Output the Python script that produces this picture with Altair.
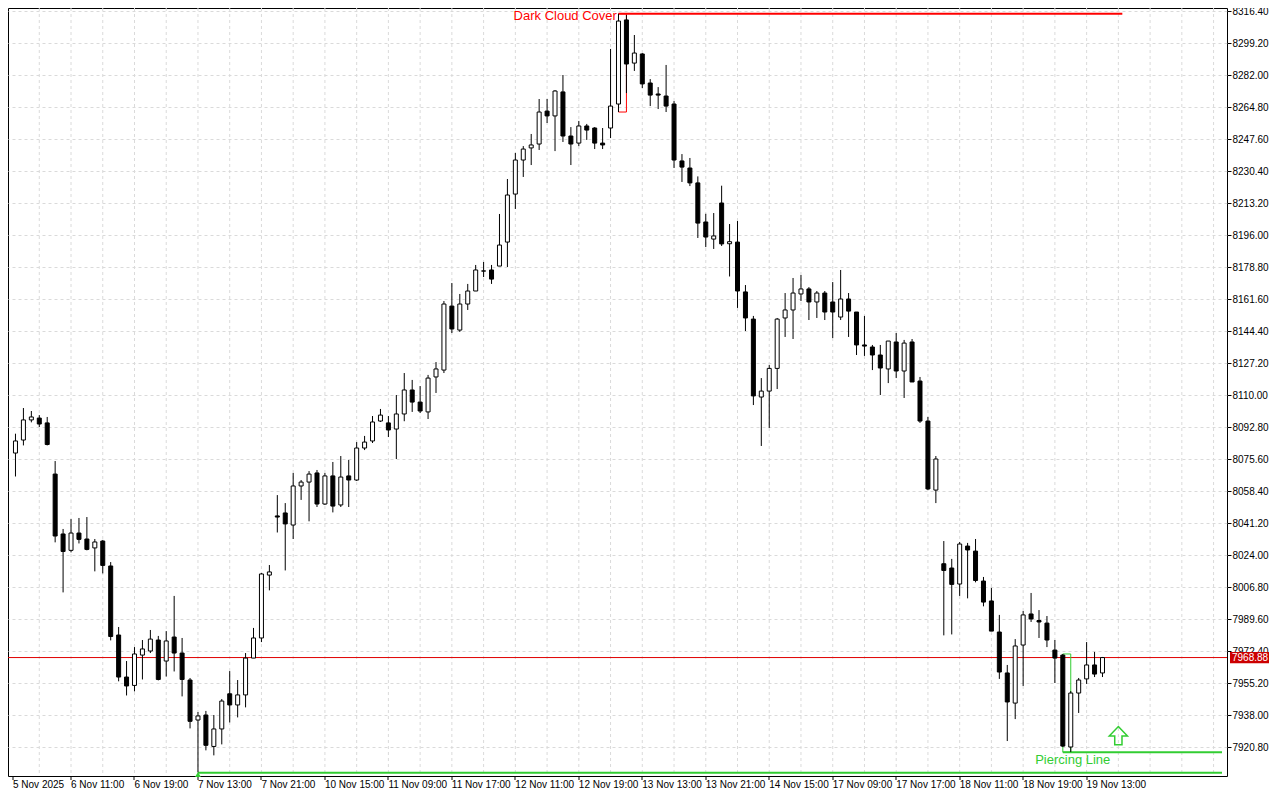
import json
import altair as alt
import pandas as pd

# ---------------- data (H1 candles) ----------------
opens = [8078.8, 8085.8, 8096.6, 8097.6, 8095.0, 8067.5, 8035.3, 8026.5, 8035.8, 8032.6,
         8027.8, 8031.5, 8018.1, 7981.0, 7958.4, 7953.9, 7970.2, 7972.4, 7978.3, 7967.0,
         7979.9, 7971.3, 7956.8, 7935.3, 7938.0, 7921.1, 7930.5, 7949.4, 7943.4, 7948.8,
         7968.6, 7979.4, 8013.2, 8045.0, 8046.6, 8040.1, 8061.1, 8063.2, 8068.1, 8051.4,
         8066.5, 8050.9, 8066.5, 8064.3, 8081.5, 8085.3, 8096.0, 8095.0, 8091.7, 8099.8,
         8112.7, 8106.2, 8100.9, 8119.7, 8123.4, 8157.8, 8144.9, 8158.9, 8165.9, 8176.6,
         8177.2, 8179.3, 8192.2, 8218.0, 8236.3, 8242.8, 8244.9, 8262.6, 8260.0, 8272.9,
         8249.2, 8245.4, 8254.6, 8253.5, 8245.4, 8253.5, 8266.4, 8311.6, 8288.4, 8293.3,
         8277.7, 8271.8, 8270.7, 8266.4, 8235.8, 8232.0, 8224.0, 8203.0, 8193.8, 8213.2,
         8191.3, 8192.2, 8165.4, 8150.8, 8108.9, 8112.1, 8124.3, 8151.4, 8155.7, 8164.3,
         8167.0, 8160.0, 8164.8, 8160.0, 8151.9, 8161.6, 8154.6, 8136.9, 8135.8, 8131.5,
         8124.0, 8138.5, 8122.9, 8138.5, 8117.5, 8096.0, 8058.9, 8019.3, 8017.0, 8008.4,
         8028.8, 8026.1, 8010.0, 7999.3, 7982.6, 7960.6, 7944.4, 7975.6, 7992.3, 7988.8,
         7987.4, 7972.9, 7970.2, 7920.8, 7949.8, 7957.4, 7964.9, 7960.6]
highs = [8089.2, 8103.0, 8101.4, 8099.2, 8098.2, 8074.5, 8038.0, 8043.3, 8043.9, 8044.4,
         8032.6, 8032.1, 8020.2, 7985.3, 7967.0, 7974.5, 7978.3, 7983.7, 7980.5, 7983.1,
         8002.0, 7979.4, 7957.9, 7939.6, 7940.2, 7938.0, 7946.6, 7961.6, 7956.8, 7971.3,
         7984.8, 8014.3, 8018.6, 8056.2, 8051.9, 8068.1, 8064.3, 8069.1, 8069.7, 8068.1,
         8074.0, 8077.2, 8075.1, 8084.7, 8088.0, 8098.7, 8102.5, 8098.7, 8110.0, 8121.8,
         8118.1, 8114.8, 8120.8, 8127.7, 8160.5, 8170.2, 8164.3, 8169.7, 8179.9, 8181.5,
         8179.9, 8207.3, 8226.1, 8240.1, 8243.8, 8250.3, 8269.1, 8269.1, 8273.9, 8282.0,
         8254.0, 8257.3, 8255.7, 8254.0, 8253.5, 8296.0, 8314.9, 8314.2, 8303.5, 8293.8,
         8279.8, 8275.5, 8287.4, 8268.0, 8239.5, 8237.4, 8227.5, 8207.4, 8207.8, 8222.5,
         8201.9, 8203.5, 8169.1, 8152.5, 8119.1, 8126.1, 8151.4, 8164.8, 8172.9, 8174.5,
         8168.0, 8165.9, 8165.9, 8170.7, 8177.2, 8164.8, 8154.6, 8152.5, 8136.9, 8136.9,
         8139.0, 8143.3, 8139.6, 8140.1, 8119.7, 8098.2, 8077.2, 8031.5, 8021.9, 8031.0,
         8030.5, 8032.6, 8012.2, 8006.3, 7991.8, 7964.9, 7978.8, 7993.9, 8003.6, 7994.4,
         7991.2, 7978.3, 7970.8, 7950.9, 7957.9, 7977.2, 7971.9, 7969.2]
lows = [8066.2, 8082.9, 8095.3, 8092.8, 8082.9, 8030.8, 8003.9, 8025.4, 8030.2, 8026.5,
        8015.2, 8014.1, 7978.1, 7956.1, 7948.5, 7950.7, 7957.1, 7971.3, 7956.6, 7958.7,
        7961.4, 7948.0, 7930.8, 7907.2, 7919.0, 7916.3, 7922.2, 7934.0, 7936.7, 7942.1,
        7968.6, 7977.2, 8005.0, 8036.1, 8015.7, 8032.6, 8053.6, 8042.1, 8049.8, 8050.9,
        8046.9, 8049.8, 8049.8, 8063.8, 8080.4, 8084.2, 8095.5, 8087.4, 8075.6, 8095.9,
        8100.9, 8100.3, 8097.1, 8111.1, 8121.8, 8143.3, 8143.9, 8155.7, 8165.9, 8173.4,
        8169.7, 8179.3, 8178.8, 8210.0, 8227.2, 8233.6, 8241.7, 8256.2, 8241.1, 8246.0,
        8233.6, 8243.8, 8247.1, 8242.2, 8242.2, 8248.1, 8262.1, 8272.3, 8284.2, 8275.0,
        8265.3, 8263.7, 8262.1, 8232.0, 8224.5, 8222.3, 8194.4, 8189.5, 8188.5, 8190.1,
        8173.7, 8156.8, 8144.4, 8104.6, 8082.6, 8092.3, 8113.2, 8141.2, 8140.1, 8160.5,
        8150.3, 8151.4, 8150.3, 8140.6, 8150.3, 8141.2, 8131.5, 8131.0, 8123.4, 8110.0,
        8116.4, 8119.1, 8108.4, 8117.0, 8095.0, 8058.9, 8051.9, 7980.8, 7981.3, 8002.0,
        8000.7, 8009.3, 7996.4, 7983.1, 7957.4, 7924.0, 7935.8, 7953.6, 7988.0, 7979.4,
        7974.5, 7955.2, 7920.8, 7918.1, 7939.1, 7954.7, 7958.4, 7958.4]
closes = [8085.3, 8096.6, 8098.2, 8094.4, 8083.4, 8034.2, 8025.9, 8035.8, 8032.4, 8027.0,
          8031.0, 8018.4, 7980.2, 7958.4, 7953.6, 7970.8, 7973.5, 7978.8, 7957.1, 7977.8,
          7971.3, 7957.1, 7934.6, 7937.5, 7921.7, 7930.5, 7945.5, 7943.4, 7948.8, 7968.6,
          7979.4, 8013.8, 8014.9, 8044.4, 8040.7, 8061.1, 8063.2, 8067.5, 8051.4, 8066.5,
          8050.3, 8065.9, 8064.3, 8081.5, 8084.7, 8095.5, 8099.2, 8091.2, 8099.8, 8112.7,
          8106.2, 8101.4, 8119.1, 8124.0, 8158.9, 8145.5, 8158.9, 8165.9, 8177.2, 8176.7,
          8172.3, 8190.6, 8217.5, 8236.3, 8242.2, 8244.4, 8262.1, 8260.0, 8273.4, 8249.2,
          8244.9, 8254.6, 8252.4, 8245.4, 8244.4, 8265.3, 8311.0, 8287.9, 8293.8, 8277.2,
          8271.2, 8271.2, 8265.3, 8236.3, 8232.5, 8224.0, 8202.4, 8194.9, 8195.5, 8191.2,
          8192.4, 8165.9, 8151.4, 8109.5, 8112.1, 8124.3, 8150.8, 8155.7, 8164.8, 8167.0,
          8160.0, 8164.8, 8154.6, 8154.6, 8161.6, 8155.1, 8136.9, 8136.3, 8131.5, 8124.5,
          8139.0, 8122.9, 8137.9, 8117.0, 8096.0, 8059.5, 8075.6, 8015.7, 8008.2, 8029.9,
          8026.7, 8010.3, 7998.7, 7983.1, 7961.1, 7945.0, 7975.1, 7991.8, 7989.6, 7988.0,
          7978.3, 7968.6, 7921.3, 7949.8, 7956.8, 7964.9, 7960.0, 7968.88]

time_labels = ["5 Nov 2025", "6 Nov 11:00", "6 Nov 19:00", "7 Nov 13:00", "7 Nov 21:00",
               "10 Nov 15:00", "11 Nov 09:00", "11 Nov 17:00", "12 Nov 11:00", "12 Nov 19:00",
               "13 Nov 13:00", "13 Nov 21:00", "14 Nov 15:00", "17 Nov 09:00", "17 Nov 17:00",
               "18 Nov 11:00", "18 Nov 19:00", "19 Nov 13:00"]
label_bars = [-0.3125, 7, 15, 23, 31, 39, 47, 55, 63, 71, 79, 87, 95, 103, 111, 119, 127, 135]
grid_bars = [3, 7, 11, 15, 19, 23, 27, 31, 35, 39, 43, 47, 51, 55, 59, 63, 67, 71, 75, 79,
             83, 87, 91, 95, 99, 103, 107, 111, 115, 119, 123, 127, 131, 135, 139, 143, 147, 151]
price_ticks = [8316.40, 8299.20, 8282.00, 8264.80, 8247.60, 8230.40, 8213.20, 8196.00,
               8178.80, 8161.60, 8144.40, 8127.20, 8110.00, 8092.80, 8075.60, 8058.40,
               8041.20, 8024.00, 8006.80, 7989.60, 7972.40, 7955.20, 7938.00, 7920.80]
current_price = 7968.88

# pattern annotations
dark_cloud = {"x": 76, "x2": 77, "high": 8314.9, "low": 8262.1, "end": 139.5,
              "label": "Dark Cloud Cover", "label_x": 75.8, "label_y": 8317.2}
piercing = {"x": 132, "x2": 133, "high": 7970.8, "low": 7918.0,
            "label": "Piercing Line", "label_x": 133.25, "label_y": 7914.0,
            "arrow_x": 139, "arrow_y": 7926.9}
piercing_old = {"x": 23, "low": 7907.0, "marker_y": 7906.0}

# ---------------- chart ----------------
W, H = 1219, 768
X_MIN, X_MAX = -0.3125, 152.0625
Y_MIN, Y_MAX = 7905.2125, 8318.0125
FONT = "Liberation Sans"
RED = "#e00000"
GREEN = "#32cd32"

df = pd.DataFrame({"i": list(range(len(opens))), "o": opens, "h": highs,
                   "l": lows, "c": closes})
df["dir"] = ["up" if c >= o else "down" for o, c in zip(opens, closes)]

xscale = alt.Scale(domain=[X_MIN, X_MAX], nice=False, zero=False)
yscale = alt.Scale(domain=[Y_MIN, Y_MAX], nice=False, zero=False)

label_expr = json.dumps(time_labels) + "[round((datum.value + 1) / 8)]"
xaxis = alt.Axis(values=label_bars, labelExpr=label_expr, labelAlign="left",
                 labelBaseline="top", labelPadding=0, tickSize=4, tickColor="black",
                 domain=False, grid=False, title=None, labelFont=FONT, labelFontSize=10,
                 labelColor="black", labelFlush=False, labelOverlap=False,
                 labelBound=False, translate=0)
yaxis = alt.Axis(orient="right", values=price_ticks, format=".2f", tickSize=4,
                 tickColor="black", labelPadding=1, grid=True, gridColor="#dadada",
                 gridDash=[3, 3], domain=False, title=None, labelFont=FONT,
                 labelFontSize=10, labelColor="black", labelOverlap=False,
                 labelBound=False)


def X(f):
    return alt.X(f, type="quantitative", scale=xscale, axis=xaxis)


def XD(v):
    return alt.X(datum=v, type="quantitative", scale=xscale, axis=xaxis)


def Y(f):
    return alt.Y(f, type="quantitative", scale=yscale, axis=yaxis)


def YD(v):
    return alt.Y(datum=v, type="quantitative", scale=yscale, axis=yaxis)


one = pd.DataFrame({"a": [0]})

vgrid = alt.Chart(pd.DataFrame({"g": grid_bars})).mark_rule(
    color="#dadada", strokeDash=[3, 3], strokeWidth=1).encode(x=X("g"))

price_line = alt.Chart(one).mark_rule(color=RED, strokeWidth=1).encode(
    y=YD(current_price))

# Dark cloud cover outline + level
dc_box = alt.Chart(one).mark_rect(fillOpacity=0, stroke="#ff0000", strokeWidth=1).encode(
    x=XD(dark_cloud["x"]), x2=alt.X2(datum=dark_cloud["x2"]),
    y=YD(dark_cloud["low"]), y2=alt.Y2(datum=dark_cloud["high"]))
dc_line = alt.Chart(one).mark_rule(color="#ff0000", strokeWidth=2).encode(
    x=XD(dark_cloud["x"]), x2=alt.X2(datum=dark_cloud["end"]), y=YD(dark_cloud["high"]))

# Piercing line outline + level
pl_box = alt.Chart(one).mark_rect(fillOpacity=0, stroke=GREEN, strokeWidth=1).encode(
    x=XD(piercing["x"]), x2=alt.X2(datum=piercing["x2"]),
    y=YD(piercing["low"]), y2=alt.Y2(datum=piercing["high"]))
pl_line = alt.Chart(one).mark_rule(color=GREEN, strokeWidth=2).encode(
    x=XD(piercing["x"]), x2=alt.X2(datum=X_MAX), y=YD(piercing["low"]))
pl_old_line = alt.Chart(one).mark_rule(color=GREEN, strokeWidth=2).encode(
    x=XD(piercing_old["x"]), x2=alt.X2(datum=X_MAX), y=YD(piercing_old["low"]))

wicks = alt.Chart(df).mark_rule(color="black", strokeWidth=1).encode(
    x=X("i"), y=Y("l"), y2="h")
bodies = alt.Chart(df).mark_bar(size=4, stroke="black", strokeWidth=1).encode(
    x=X("i"), y=Y("o"), y2="c",
    color=alt.Color("dir:N", scale=alt.Scale(domain=["up", "down"],
                                             range=["#ffffff", "#000000"]), legend=None))

price_box = alt.Chart(one).mark_rect(color="#cc0000").encode(
    x=alt.value(W + 3), x2=alt.value(W + 42),
    y=YD(current_price + 3.0), y2=alt.Y2(datum=current_price - 3.0))
price_text = alt.Chart(one).mark_text(align="left", baseline="middle", color="white",
                                      font=FONT, fontSize=10).encode(
    x=alt.value(W + 5), y=YD(current_price), text=alt.value(f"{current_price:.2f}"))

dc_text = alt.Chart(one).mark_text(align="right", baseline="top", color="#ff0000",
                                   font=FONT, fontSize=13).encode(
    x=XD(dark_cloud["label_x"]), y=YD(dark_cloud["label_y"]),
    text=alt.value(dark_cloud["label"]))
pl_text = alt.Chart(one).mark_text(align="center", baseline="middle", color=GREEN,
                                   font=FONT, fontSize=13).encode(
    x=XD(piercing["label_x"]), y=YD(piercing["label_y"]),
    text=alt.value(piercing["label"]))

arrow_path = "M0,-1L1,0.05L0.4,0.05L0.4,1L-0.4,1L-0.4,0.05L-1,0.05Z"
pl_arrow = alt.Chart(one).mark_point(shape=arrow_path, size=330, filled=False,
                                     stroke=GREEN, strokeWidth=1.5, opacity=1).encode(
    x=XD(piercing["arrow_x"]), y=YD(piercing["arrow_y"]))
old_marker = alt.Chart(one).mark_point(shape="triangle-up", size=35, filled=True,
                                       color=GREEN, opacity=1).encode(
    x=XD(piercing_old["x"]), y=YD(piercing_old["marker_y"]))

chart = alt.layer(
    vgrid, price_line, dc_box, dc_line, pl_box, pl_line, pl_old_line,
    wicks, bodies, price_box, price_text, dc_text, pl_text, pl_arrow, old_marker
).properties(
    width=W, height=H,
    autosize=alt.AutoSizeParams(type="none"),
    padding={"left": 0, "top": 0, "right": 44, "bottom": 16},
    background="white",
).configure_view(stroke="black", strokeWidth=1)

chart.save("out.html", embed_options={"renderer": "svg", "actions": False})
